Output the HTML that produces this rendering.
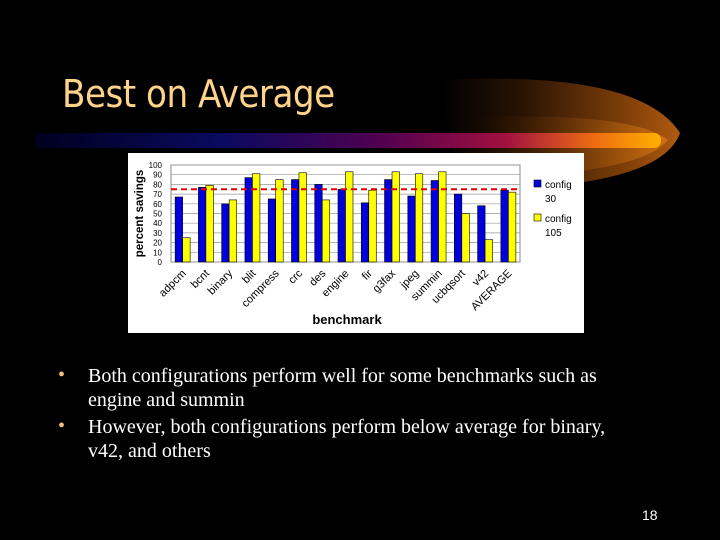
<!DOCTYPE html>
<html><head><meta charset="utf-8"><style>
html,body{margin:0;padding:0;background:#000;}
#slide{position:relative;width:720px;height:540px;overflow:hidden;background:#000;font-family:"Liberation Serif",serif;}
.abs{position:absolute;}
#title{left:62px;top:72px;font-family:"DejaVu Sans Condensed","Liberation Sans",sans-serif;font-size:38px;color:#ffd38a;letter-spacing:-0.5px;}
.bullet{left:88px;color:#fff;font-size:20px;line-height:24px;width:525px;}
.dot{left:58px;color:#f0c080;font-size:20px;}
#pagenum{left:642px;top:507px;color:#fff;font-family:"Liberation Sans",sans-serif;font-size:14px;}
</style></head><body>
<div id="slide">
<svg class="abs" style="left:0;top:0" width="720" height="540">
<defs>
<linearGradient id="glow" x1="0" x2="1"><stop offset="0" stop-color="#000"/><stop offset="0.35" stop-color="#2a1404"/><stop offset="0.75" stop-color="#7a3c08"/><stop offset="1" stop-color="#b05a10"/></linearGradient>
<linearGradient id="glow2" x1="0" x2="1"><stop offset="0" stop-color="#000" stop-opacity="0"/><stop offset="0.5" stop-color="#5a2c06"/><stop offset="1" stop-color="#d07010"/></linearGradient>
<linearGradient id="bar" x1="0" x2="1"><stop offset="0" stop-color="#000020"/><stop offset="0.3" stop-color="#0a0a60"/><stop offset="0.55" stop-color="#500050"/><stop offset="0.75" stop-color="#a01040"/><stop offset="0.9" stop-color="#f07010"/><stop offset="1" stop-color="#ffb000"/></linearGradient>
</defs>
<path d="M440 80 Q640 70 680 133 Q660 190 460 190 Z" fill="url(#glow)"/>
<path d="M450 118 Q630 110 668 140 Q640 175 470 178 Z" fill="url(#glow2)"/>
<rect x="35" y="133" width="626" height="15" rx="7" fill="url(#bar)"/>
</svg>
<div id="title" class="abs">Best on Average</div>
<svg id="chart" class="abs" style="left:128px;top:153px" width="456" height="180"></svg>
<div class="abs dot" style="top:364px">•</div>
<div class="abs bullet" style="top:364px">Both configurations perform well for some benchmarks such as engine and summin</div>
<div class="abs dot" style="top:415px">•</div>
<div class="abs bullet" style="top:415px">However, both configurations perform below average for binary, v42, and others</div>
<div id="pagenum" class="abs">18</div>
</div>
<script>
const categories=["adpcm","bcnt","binary","blit","compress","crc","des","engine","fir","g3fax","jpeg","summin","ucbqsort","v42","AVERAGE"];
const config30=[67,77,60,87,65,85,80,75,61,85,68,84,70,58,74];
const config105=[25,79,64,91,85,92,64,93,74,93,91,93,50,23,72];
const yTicks=[0,10,20,30,40,50,60,70,80,90,100];
const avgLine=[75];
const NS="http://www.w3.org/2000/svg";
const svg=document.getElementById('chart');
function mk(t,a){const e=document.createElementNS(NS,t);for(const k in a)e.setAttribute(k,a[k]);svg.appendChild(e);return e;}
const L=43,R=392,T=12,B=109;
const yS=v=>B-(v/100)*(B-T);
const cw=(R-L)/categories.length;
const xS=i=>L+i*cw;
const bg=mk('rect',{x:0,y:0,width:456,height:180,fill:'#fff'});


mk('rect',{x:L,y:T,width:R-L,height:B-T,fill:'#fff',stroke:'#888','stroke-width':1});
yTicks.forEach(v=>{
 const g=mk('line',{x1:L,x2:R,y1:yS(v),y2:yS(v),stroke:'#999','stroke-width':0.7});
 
 
 const t=mk('text',{x:L-9,y:yS(v)+3,'text-anchor':'end','font-size':8,'font-family':'Liberation Sans, sans-serif',fill:'#000'});
 t.textContent=v;
 
 
});
categories.forEach((c,i)=>{
 const bw=7.5,x0=xS(i)+cw/2-bw;
 const b1=mk('rect',{x:x0,y:yS(config30[i]),width:bw,height:B-yS(config30[i]),fill:'#0000dd',stroke:'#000','stroke-width':0.6});
 
 
 const b2=mk('rect',{x:x0+bw,y:yS(config105[i]),width:bw,height:B-yS(config105[i]),fill:'#ffff00',stroke:'#000','stroke-width':0.6});
 
 
 const tx=xS(i)+cw/2+4, ty=B+12;
 const t=mk('text',{x:tx,y:ty,'text-anchor':'end','font-size':11,'font-family':'Liberation Sans, sans-serif',fill:'#000',transform:`rotate(-45 ${tx} ${ty})`});
 t.textContent=c;
 
 
});
const al=mk('line',{x1:L,x2:R,y1:yS(avgLine[0]),y2:yS(avgLine[0]),stroke:'#dd0000','stroke-width':2,'stroke-dasharray':'6,4'});


const yt=mk('text',{x:15,y:(T+B)/2,'text-anchor':'middle','font-size':11.5,'font-weight':'bold','font-family':'Liberation Sans, sans-serif',fill:'#000',transform:`rotate(-90 15 ${(T+B)/2})`});
yt.textContent='percent savings';


const xt=mk('text',{x:219,y:171,'text-anchor':'middle','font-size':13,'font-weight':'bold','font-family':'Liberation Sans, sans-serif',fill:'#000'});
xt.textContent='benchmark';


[['#0000dd','config','30',27],['#ffff00','config','105',61]].forEach(([col,a,b,y],k)=>{
 const s=mk('rect',{x:406,y:y,width:7,height:7,fill:col,stroke:'#000','stroke-width':0.6});
 
 
 const t1=mk('text',{x:417,y:y+8,'font-size':10,'font-family':'Liberation Sans, sans-serif',fill:'#000'});t1.textContent=a;
 
 
 const t2=mk('text',{x:417,y:y+22,'font-size':10,'font-family':'Liberation Sans, sans-serif',fill:'#000'});t2.textContent=b;
 
 
});
</script>
</body></html>
